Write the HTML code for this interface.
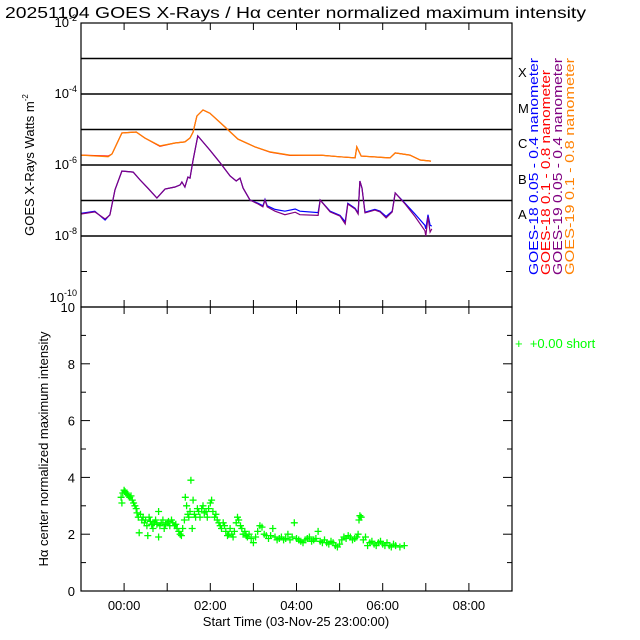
<!DOCTYPE html>
<html><head><meta charset="utf-8"><style>
body{margin:0;background:#fff}
svg{display:block;font-family:"Liberation Sans",sans-serif}
</style></head><body>
<svg id="chart" width="640" height="640" viewBox="0 0 640 640">
<rect width="640" height="640" fill="#fff"/>
<text x="5" y="18" font-size="16" textLength="581" lengthAdjust="spacingAndGlyphs">20251104 GOES X-Rays / Hα center normalized maximum intensity</text>
<g id="topPanel"></g>
<g id="botPanel"></g>
<text transform="translate(34,165) rotate(-90)" text-anchor="middle" font-size="13">GOES X-Rays Watts m<tspan font-size="8" dy="-6">-2</tspan></text>
<text transform="translate(48,449) rotate(-90)" text-anchor="middle" font-size="13">Hα center normalized maximum intensity</text>
<text x="296" y="626" text-anchor="middle" font-size="13">Start Time (03-Nov-25 23:00:00)</text>
<g font-size="13">
<text x="518" y="77">X</text><text x="518" y="113">M</text><text x="518" y="148">C</text><text x="518" y="184">B</text><text x="518" y="219">A</text>
</g>
<g font-size="13">
<text transform="translate(538,275) rotate(-90)" fill="#0000ff" textLength="217" lengthAdjust="spacingAndGlyphs">GOES-18 0.05 - 0.4 nanometer</text>
<text transform="translate(550,275) rotate(-90)" fill="#ff0000" textLength="205" lengthAdjust="spacingAndGlyphs">GOES-18 0.1 - 0.8 nanometer</text>
<text transform="translate(562,275) rotate(-90)" fill="#800080" textLength="217" lengthAdjust="spacingAndGlyphs">GOES-19 0.05 - 0.4 nanometer</text>
<text transform="translate(574,275) rotate(-90)" fill="#ff8000" textLength="217" lengthAdjust="spacingAndGlyphs">GOES-19 0.1 - 0.8 nanometer</text>
</g>
<text x="515" y="348" font-size="13" fill="#00ff00">+&#160;&#160;+0.00 short</text>
</svg>
<script>
const orangeT=[-1.00,-0.37,-0.28,-0.05,0.28,0.48,0.83,1.18,1.41,1.53,1.60,1.69,1.83,1.99,2.34,2.64,3.04,3.39,3.85,4.55,5.01,5.36,5.40,5.50,6.17,6.29,6.63,6.87,7.12];
const orangeV=[-5.72,-5.77,-5.69,-5.10,-5.07,-5.24,-5.46,-5.38,-5.35,-5.24,-5.07,-4.62,-4.45,-4.54,-4.93,-5.27,-5.49,-5.63,-5.72,-5.72,-5.77,-5.80,-5.49,-5.75,-5.80,-5.66,-5.72,-5.86,-5.89];
const redV=[-5.72,-5.75,-5.69,-5.10,-5.07,-5.24,-5.47,-5.38,-5.35,-5.24,-5.07,-4.62,-4.45,-4.54,-4.93,-5.27,-5.49,-5.64,-5.73,-5.72,-5.77,-5.80,-5.49,-5.75,-5.80,-5.66,-5.72,-5.86,-5.89];
const shortT=[-1.00,-0.68,-0.44,-0.33,-0.26,-0.21,-0.05,0.21,0.37,0.55,0.76,0.95,1.18,1.30,1.34,1.41,1.48,1.53,1.60,1.71,1.99,2.23,2.46,2.60,2.69,2.76,2.92,3.11,3.22,3.27,3.32,3.50,3.73,3.97,4.08,4.50,4.55,4.78,5.01,5.13,5.19,5.36,5.43,5.47,5.52,5.59,5.82,5.94,6.08,6.22,6.29,6.52,6.75,6.98,7.00,7.05,7.10,7.14];
const purpleV=[-7.38,-7.32,-7.52,-7.41,-6.99,-6.70,-6.17,-6.20,-6.42,-6.65,-6.93,-6.68,-6.62,-6.56,-6.48,-6.62,-6.34,-6.37,-5.86,-5.18,-5.58,-5.94,-6.31,-6.45,-6.37,-6.65,-6.99,-7.10,-7.18,-6.99,-7.18,-7.30,-7.40,-7.33,-7.40,-7.42,-6.99,-7.32,-7.44,-7.66,-7.10,-7.24,-7.38,-6.45,-6.65,-7.35,-7.27,-7.32,-7.49,-7.32,-6.79,-7.10,-7.45,-7.85,-8.00,-7.46,-7.89,-7.80];
const blueV=[-7.36,-7.30,-7.55,-7.40,-6.99,-6.70,-6.17,-6.20,-6.42,-6.65,-6.93,-6.68,-6.62,-6.56,-6.48,-6.62,-6.34,-6.37,-5.86,-5.18,-5.58,-5.94,-6.31,-6.45,-6.37,-6.65,-6.99,-7.08,-7.15,-6.97,-7.15,-7.25,-7.30,-7.24,-7.30,-7.34,-6.99,-7.30,-7.42,-7.60,-7.08,-7.22,-7.35,-6.45,-6.65,-7.33,-7.25,-7.30,-7.45,-7.30,-6.79,-7.08,-7.38,-7.70,-7.80,-7.40,-7.70,-7.72];
const haT=[-0.07,-0.05,-0.03,0.00,0.02,0.05,0.08,0.10,0.13,0.16,0.19,0.22,0.25,0.28,0.30,0.33,0.35,0.38,0.41,0.44,0.47,0.50,0.53,0.55,0.58,0.61,0.64,0.67,0.70,0.73,0.76,0.80,0.80,0.83,0.86,0.90,0.93,0.96,1.00,1.03,1.06,1.10,1.13,1.17,1.20,1.23,1.27,1.30,1.33,1.36,1.40,1.42,1.45,1.48,1.50,1.53,1.55,1.58,1.60,1.63,1.66,1.70,1.73,1.76,1.80,1.83,1.86,1.90,1.93,1.96,2.00,2.03,2.06,2.10,2.13,2.16,2.20,2.23,2.26,2.30,2.33,2.36,2.40,2.43,2.46,2.50,2.53,2.56,2.60,2.63,2.66,2.70,2.73,2.76,2.80,2.83,2.86,2.90,2.95,3.00,3.05,3.10,3.15,3.20,3.25,3.30,3.35,3.40,3.45,3.50,3.55,3.60,3.65,3.70,3.75,3.80,3.85,3.90,3.95,4.00,4.05,4.10,4.15,4.20,4.25,4.30,4.35,4.40,4.45,4.50,4.55,4.60,4.65,4.70,4.75,4.80,4.85,4.90,4.95,5.00,5.05,5.10,5.15,5.20,5.25,5.30,5.35,5.40,5.43,5.45,5.47,5.50,5.55,5.60,5.65,5.70,5.75,5.80,5.85,5.90,5.95,6.00,6.05,6.10,6.15,6.20,6.25,6.30,6.40,6.50];
const haV=[3.3,3.1,3.45,3.55,3.5,3.45,3.4,3.35,3.3,3.35,3.2,3.1,3.0,2.9,2.75,2.6,2.05,2.7,2.5,2.6,2.4,2.5,2.3,1.95,2.6,2.45,2.35,2.2,2.4,2.5,2.35,2.8,1.9,2.3,2.4,2.5,2.2,2.35,2.4,2.45,2.3,2.5,2.4,2.3,2.35,2.2,2.1,2.0,1.95,2.2,2.5,3.3,3.0,2.7,2.6,2.8,3.9,2.2,3.2,2.7,2.6,2.9,2.8,2.6,2.9,3.0,2.75,2.8,2.6,2.9,3.1,3.2,2.8,2.6,2.7,2.5,2.4,2.3,2.2,2.4,2.3,2.1,1.95,2.0,2.2,2.0,1.9,2.1,2.4,2.6,2.5,2.3,2.2,2.0,2.1,1.95,1.9,2.0,1.85,1.7,1.9,2.1,2.3,2.25,2.0,1.95,1.85,1.95,2.2,1.9,1.8,1.85,1.9,1.8,1.85,2.0,1.8,1.9,2.4,1.85,1.8,1.75,1.7,1.8,1.85,1.9,1.75,1.8,1.85,2.1,1.75,1.7,1.8,1.7,1.65,1.75,1.7,1.6,1.55,1.65,1.8,1.9,1.85,1.95,1.9,1.8,1.85,1.9,2.0,2.5,2.65,2.6,1.8,1.9,1.6,1.7,1.75,1.65,1.6,1.7,1.75,1.65,1.6,1.7,1.6,1.55,1.65,1.6,1.55,1.6,1.58];
const hourTicks=[-1,0,1,2,3,4,5,6,7,8,9];
const timeLabels=["00:00","02:00","04:00","06:00","08:00"];
const timeLabelHours=[0,2,4,6,8];
const logTicks=[-2,-3,-4,-5,-6,-7,-8,-9,-10];
const logLabels=[-2,-4,-6,-8,-10];
const linTicks=[0,1,2,3,4,5,6,7,8,9,10];
const linLabels=[0,2,4,6,8,10];

const NS="http://www.w3.org/2000/svg";
const X0=81,X1=512,TT=23,TB=307,BB=591;
const xs=h=>X0+(h+1)/10*(X1-X0);
const ly=v=>TT+(-2-v)/8*(TB-TT);
const by=v=>BB-v/10*(BB-TB);
function mk(tag,attrs,parent){const e=document.createElementNS(NS,tag);for(const k in attrs)e.setAttribute(k,attrs[k]);parent.appendChild(e);return e;}
const topG=document.getElementById('topPanel'),botG=document.getElementById('botPanel');

for(let i=1;i<logTicks.length-1;i++){const v=logTicks[i];
if(v>=-8){const l=mk('line',{x1:X0,x2:X1,y1:ly(v),y2:ly(v),stroke:'#000','stroke-width':1.5},topG);

}
else{mk('line',{x1:X0,x2:X0+6,y1:ly(v),y2:ly(v),stroke:'#000'},topG);}
mk('line',{x1:X1-6,x2:X1,y1:ly(v),y2:ly(v),stroke:'#000'},topG);}
logLabels.forEach(v=>{const yy=v===-10?ly(v)-5:ly(v)+4;
const t=mk('text',{x:X0-4,y:yy,'text-anchor':'end','font-size':13},topG);


t.innerHTML='10<tspan font-size="9" dy="-6">'+v+'</tspan>';});
hourTicks.forEach(h=>{mk('line',{x1:xs(h),x2:xs(h),y1:TT,y2:TT+7,stroke:'#000'},topG);mk('line',{x1:xs(h),x2:xs(h),y1:TB,y2:TB-7,stroke:'#000'},topG);});
function line(T,V,col,name){const d=T.map((t,i)=>(i?'L':'M')+xs(t).toFixed(1)+','+ly(V[i]).toFixed(1)).join('');
const p=mk('path',{d:d,fill:'none',stroke:col,'stroke-width':1.2},topG);

}
line(orangeT,redV,'#ff0000','goes18-long-line');
line(orangeT,orangeV,'#ff8000','goes19-long-line');
line(shortT,blueV,'#0000ff','goes18-short-line');
line(shortT,purpleV,'#800080','goes19-short-line');
const fr=mk('rect',{x:X0,y:TT,width:X1-X0,height:TB-TT,fill:'none',stroke:'#000','stroke-width':1.2},topG);



linTicks.forEach(v=>{const len=v%2?5:9;mk('line',{x1:X0,x2:X0+len,y1:by(v),y2:by(v),stroke:'#000'},botG);mk('line',{x1:X1-len,x2:X1,y1:by(v),y2:by(v),stroke:'#000'},botG);});
linLabels.forEach(v=>{const t=mk('text',{x:X0-6,y:by(v)+5,'text-anchor':'end','font-size':13},botG);


t.textContent=v;});
hourTicks.forEach(h=>{mk('line',{x1:xs(h),x2:xs(h),y1:TB,y2:TB+7,stroke:'#000'},botG);mk('line',{x1:xs(h),x2:xs(h),y1:BB,y2:BB-8,stroke:'#000'},botG);});
timeLabels.forEach((s,i)=>{const t=mk('text',{x:xs(timeLabelHours[i]),y:610,'text-anchor':'middle','font-size':13},botG);


t.textContent=s;});
let d='';haT.forEach((t,i)=>{const x=xs(t),y=by(haV[i]);d+=`M${(x-3.5).toFixed(1)},${y.toFixed(1)}h7M${x.toFixed(1)},${(y-3.5).toFixed(1)}v7`;});
const sc=mk('path',{d:d,stroke:'#00ff00','stroke-width':1.3,fill:'none'},botG);


const fb=mk('rect',{x:X0,y:TB,width:X1-X0,height:BB-TB,fill:'none',stroke:'#000','stroke-width':1.2},botG);


</script>
</body></html>
